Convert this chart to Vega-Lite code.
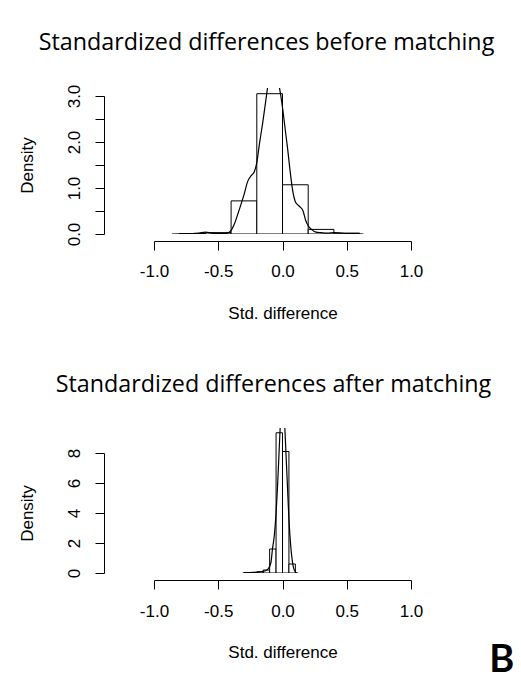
{
  "$schema": "https://vega.github.io/schema/vega-lite/v6.json",
  "background": "white",
  "padding": {"left": 18, "top": 30, "right": 0, "bottom": 0},
  "autosize": {"type": "pad"},
  "bounds": "flush",
  "spacing": 194,
  "config": {
    "view": {"stroke": null},
    "axis": {
      "domainColor": "black", "tickColor": "black", "labelColor": "black", "titleColor": "black",
      "grid": false, "labelFont": "Liberation Sans", "titleFont": "Liberation Sans",
      "labelFontSize": 17, "titleFontSize": 17, "titleFontWeight": "normal",
      "tickSize": 9, "domainWidth": 1, "tickWidth": 1, "labelFlush": false, "labelOverlap": false
    },
    "title": {"font": "Open Sans", "fontSize": 23.3, "fontWeight": "normal", "color": "black"}
  },
  "title": {
    "text": "B", "orient": "bottom", "anchor": "end", "font": "Lato", "fontWeight": "bold",
    "fontSize": 38, "baseline": "alphabetic", "offset": 12, "dx": 20, "color": "black"
  },
  "datasets": {
    "before_hist": [
      {"bin_start": -0.8, "bin_end": -0.6, "density": 0.01},
      {"bin_start": -0.6, "bin_end": -0.4, "density": 0.03},
      {"bin_start": -0.4, "bin_end": -0.2, "density": 0.72},
      {"bin_start": -0.2, "bin_end": 0.0, "density": 3.05},
      {"bin_start": 0.0, "bin_end": 0.2, "density": 1.07},
      {"bin_start": 0.2, "bin_end": 0.4, "density": 0.1},
      {"bin_start": 0.4, "bin_end": 0.6, "density": 0.02}
    ],
    "before_curve": [
      {"x": -0.86, "density": 0.0}, {"x": -0.8, "density": 0.005}, {"x": -0.75, "density": 0.01},
      {"x": -0.7, "density": 0.01}, {"x": -0.65, "density": 0.02}, {"x": -0.6, "density": 0.04},
      {"x": -0.55, "density": 0.02}, {"x": -0.5, "density": 0.01}, {"x": -0.45, "density": 0.01},
      {"x": -0.42, "density": 0.03}, {"x": -0.4, "density": 0.08}, {"x": -0.37, "density": 0.25},
      {"x": -0.34, "density": 0.5}, {"x": -0.3, "density": 0.85}, {"x": -0.27, "density": 1.15},
      {"x": -0.24, "density": 1.28}, {"x": -0.22, "density": 1.35}, {"x": -0.2, "density": 1.55},
      {"x": -0.18, "density": 1.95}, {"x": -0.155, "density": 2.4}, {"x": -0.13, "density": 2.9},
      {"x": -0.115, "density": 3.2}, {"x": -0.09, "density": 3.5}, {"x": -0.07, "density": 3.6},
      {"x": -0.045, "density": 3.45}, {"x": -0.025, "density": 3.2}, {"x": 0.0, "density": 2.75},
      {"x": 0.02, "density": 2.3}, {"x": 0.04, "density": 1.85}, {"x": 0.06, "density": 1.35},
      {"x": 0.08, "density": 0.93}, {"x": 0.1, "density": 0.7}, {"x": 0.12, "density": 0.63},
      {"x": 0.14, "density": 0.58}, {"x": 0.16, "density": 0.5}, {"x": 0.18, "density": 0.3},
      {"x": 0.2, "density": 0.18}, {"x": 0.23, "density": 0.09}, {"x": 0.26, "density": 0.04},
      {"x": 0.3, "density": 0.03}, {"x": 0.35, "density": 0.02}, {"x": 0.4, "density": 0.03},
      {"x": 0.45, "density": 0.02}, {"x": 0.5, "density": 0.01}, {"x": 0.55, "density": 0.01},
      {"x": 0.63, "density": 0.0}
    ],
    "after_hist": [
      {"bin_start": -0.3, "bin_end": -0.25, "density": 0.02},
      {"bin_start": -0.25, "bin_end": -0.2, "density": 0.04},
      {"bin_start": -0.2, "bin_end": -0.15, "density": 0.08},
      {"bin_start": -0.15, "bin_end": -0.1, "density": 0.2},
      {"bin_start": -0.1, "bin_end": -0.05, "density": 1.6},
      {"bin_start": -0.05, "bin_end": 0.0, "density": 9.35},
      {"bin_start": 0.0, "bin_end": 0.05, "density": 8.1},
      {"bin_start": 0.05, "bin_end": 0.1, "density": 0.6}
    ],
    "after_curve": [
      {"x": -0.31, "density": 0.0}, {"x": -0.28, "density": 0.02}, {"x": -0.25, "density": 0.03},
      {"x": -0.22, "density": 0.04}, {"x": -0.19, "density": 0.06}, {"x": -0.16, "density": 0.1},
      {"x": -0.13, "density": 0.15}, {"x": -0.11, "density": 0.3}, {"x": -0.09, "density": 0.7},
      {"x": -0.078, "density": 1.6}, {"x": -0.065, "density": 2.4}, {"x": -0.05, "density": 4.0},
      {"x": -0.039, "density": 5.7}, {"x": -0.028, "density": 7.8}, {"x": -0.018, "density": 9.7},
      {"x": -0.008, "density": 11.4}, {"x": 0.0, "density": 11.8}, {"x": 0.008, "density": 11.2},
      {"x": 0.018, "density": 9.7}, {"x": 0.028, "density": 7.8}, {"x": 0.039, "density": 5.7},
      {"x": 0.05, "density": 3.6}, {"x": 0.065, "density": 1.7}, {"x": 0.075, "density": 0.9},
      {"x": 0.085, "density": 0.37}, {"x": 0.095, "density": 0.15}, {"x": 0.104, "density": 0.04},
      {"x": 0.12, "density": 0.0}
    ]
  },
  "vconcat": [
    {
      "width": 257,
      "height": 146,
      "title": {"text": "Standardized differences before matching", "baseline": "alphabetic", "offset": 11, "frame": "group", "dx": -16},
      "layer": [
        {
          "data": {"name": "before_hist"},
          "mark": {"type": "rect", "fill": "white", "stroke": "black", "strokeWidth": 1, "clip": true},
          "encoding": {
            "x": {"field": "bin_start", "type": "quantitative",
              "scale": {"domain": [-1, 1], "nice": false, "zero": false},
              "axis": {"values": [-1, -0.5, 0, 0.5, 1], "tickCount": 20, "offset": 7, "labelBaseline": "alphabetic", "labelPadding": 26,
                "labelOverlap": false,
                "labelExpr": "datum.value === 0 ? '0.0' : (datum.value < 0 ? '-' + format(-datum.value, '.1f') : format(datum.value, '.1f'))",
                "title": "Std. difference", "titleY": 77, "titleBaseline": "alphabetic"}},
            "x2": {"field": "bin_end"},
            "y": {"field": "density", "type": "quantitative",
              "scale": {"domain": [0, 3], "range": [146, 8], "nice": false},
              "axis": {"values": [0, 0.5, 1, 1.5, 2, 2.5, 3], "tickCount": 20, "offset": 50, "labelAngle": -90, "labelAlign": "center",
                "labelBaseline": "alphabetic", "labelPadding": 16, "labelOverlap": false,
                "labelExpr": "datum.value % 1 === 0 ? format(datum.value, '.1f') : ''",
                "title": "Density", "titleX": -72, "titleBaseline": "alphabetic"}},
            "y2": {"datum": 0}
          }
        },
        {
          "data": {"name": "before_curve"},
          "mark": {"type": "line", "color": "black", "strokeWidth": 1.2, "clip": true, "interpolate": "monotone"},
          "encoding": {
            "x": {"field": "x", "type": "quantitative"},
            "y": {"field": "density", "type": "quantitative"}
          }
        }
      ]
    },
    {
      "width": 257,
      "height": 145,
      "title": {"text": "Standardized differences after matching", "baseline": "alphabetic", "offset": 13, "frame": "group", "dx": -9},
      "layer": [
        {
          "data": {"name": "after_hist"},
          "mark": {"type": "rect", "fill": "white", "stroke": "black", "strokeWidth": 1, "clip": true},
          "encoding": {
            "x": {"field": "bin_start", "type": "quantitative",
              "scale": {"domain": [-1, 1], "nice": false, "zero": false},
              "axis": {"values": [-1, -0.5, 0, 0.5, 1], "tickCount": 20, "offset": 7, "labelBaseline": "alphabetic", "labelPadding": 27,
                "labelOverlap": false,
                "labelExpr": "datum.value === 0 ? '0.0' : (datum.value < 0 ? '-' + format(-datum.value, '.1f') : format(datum.value, '.1f'))",
                "title": "Std. difference", "titleY": 77, "titleBaseline": "alphabetic"}},
            "x2": {"field": "bin_end"},
            "y": {"field": "density", "type": "quantitative",
              "scale": {"domain": [0, 8], "range": [145, 25], "nice": false},
              "axis": {"values": [0, 2, 4, 6, 8], "tickCount": 20, "offset": 50, "labelAngle": -90, "labelAlign": "center",
                "labelBaseline": "alphabetic", "labelPadding": 16, "format": "d", "labelOverlap": false,
                "title": "Density", "titleX": -72, "titleBaseline": "alphabetic"}},
            "y2": {"datum": 0}
          }
        },
        {
          "data": {"name": "after_curve"},
          "mark": {"type": "line", "color": "black", "strokeWidth": 1.2, "clip": true, "interpolate": "monotone"},
          "encoding": {
            "x": {"field": "x", "type": "quantitative"},
            "y": {"field": "density", "type": "quantitative"}
          }
        }
      ]
    }
  ]
}
